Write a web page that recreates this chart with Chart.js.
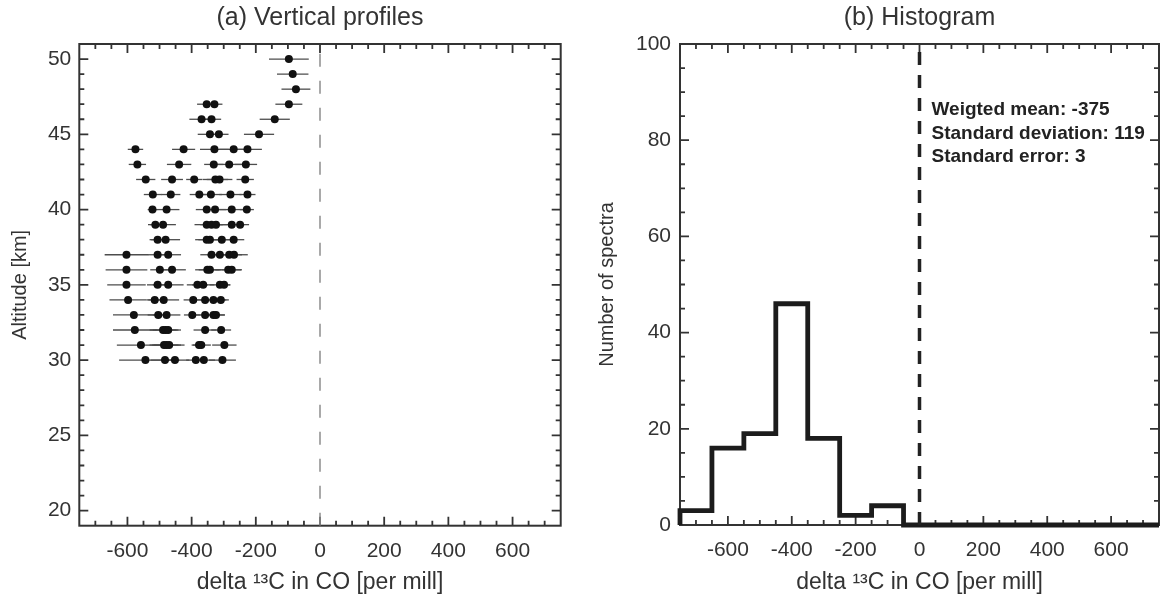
<!DOCTYPE html>
<html><head><meta charset="utf-8">
<script src="https://cdn.jsdelivr.net/npm/chart.js@4/dist/chart.umd.min.js"></script>
<style>
html,body{margin:0;padding:0;background:#fff;overflow:hidden}
#wrap{position:relative;width:1161px;height:601px;background:#fff}
#left{position:absolute;left:0;top:0}
#right{position:absolute;left:580px;top:0}
</style></head><body>
<div id="wrap"><canvas id="left" width="580" height="601"></canvas><canvas id="right" width="581" height="601"></canvas></div>
<script>
// ---------- Panel (a) data: one entry per retrieved point ----------
const profileAltitude = [
  50, 49, 48,
  47, 47, 47,
  46, 46, 46,
  45, 45, 45,
  44, 44, 44, 44, 44,
  43, 43, 43, 43, 43,
  42, 42, 42, 42, 42, 42,
  41, 41, 41, 41, 41, 41,
  40, 40, 40, 40, 40, 40,
  39, 39, 39, 39, 39, 39, 39,
  38, 38, 38, 38, 38, 38,
  37, 37, 37, 37, 37, 37, 37,
  36, 36, 36, 36, 36, 36, 36,
  35, 35, 35, 35, 35, 35, 35,
  34, 34, 34, 34, 34, 34, 34,
  33, 33, 33, 33, 33, 33, 33,
  32, 32, 32, 32, 32, 32,
  31, 31, 31, 31, 31, 31, 31,
  30, 30, 30, 30, 30, 30
];
const profileDelta = [
  -97, -85, -75,
  -353, -329, -97,
  -369, -338, -141,
  -343, -315, -190,
  -575, -425, -329, -269, -226,
  -569, -439, -331, -283, -231,
  -543, -461, -392, -326, -313, -233,
  -521, -465, -376, -340, -279, -226,
  -522, -478, -353, -327, -275, -228,
  -513, -489, -353, -338, -324, -275, -249,
  -506, -481, -353, -343, -306, -269,
  -603, -506, -473, -338, -312, -283, -268,
  -603, -499, -461, -351, -343, -286, -275,
  -603, -506, -473, -382, -364, -312, -299,
  -598, -515, -487, -395, -358, -332, -309,
  -580, -504, -478, -398, -358, -332, -324,
  -577, -489, -481, -473, -358, -308,
  -558, -486, -478, -470, -377, -370, -298,
  -544, -483, -452, -387, -362, -304
];
const profileError = [
  62, 49, 45,
  30, 25, 42,
  38, 30, 47,
  38, 30, 47,
  24, 36, 45, 45, 45,
  27, 38, 30, 40, 35,
  30, 34, 25, 40, 40, 27,
  28, 30, 30, 35, 35, 25,
  15, 40, 34, 35, 40, 22,
  23, 40, 38, 35, 35, 40, 28,
  25, 45, 36, 36, 40, 33,
  68, 30, 40, 35, 40, 40, 43,
  65, 30, 43, 38, 35, 40, 32,
  60, 33, 48, 33, 35, 32, 20,
  58, 25, 48, 30, 35, 40, 25,
  65, 33, 43, 26, 35, 35, 28,
  68, 42, 40, 40, 36, 31,
  75, 45, 45, 48, 19, 30, 38,
  82, 45, 45, 30, 35, 42
];

// ---------- Panel (b) data: histogram ----------
const binEdges  = [-750, -650, -550, -450, -350, -250, -150, -50, 750];
const binCounts = [3, 16, 19, 46, 18, 2, 4, 0];
const statLines = ['Weigted mean: -375', 'Standard deviation: 119', 'Standard error: 3'];

// ---------- Axes ----------
const xRange = [-750, 750];
const xTickLabels = [-600, -400, -200, 0, 200, 400, 600];
const altRange = [19, 51];
const altTickLabels = [20, 25, 30, 35, 40, 45, 50];
const countRange = [0, 100];
const countTickLabels = [0, 20, 40, 60, 80, 100];
const zeroLineX = 0;

const FONT = "'Liberation Sans', Arial, Helvetica, sans-serif";
const INK = '#333333';
Chart.defaults.font.family = FONT;
Chart.defaults.color = INK;

function frameTicks(xMinorStep, xMajorStep, yMinorStep, yMajorStep) {
  return {
    id: 'frameTicks',
    beforeDatasetsDraw(chart) {
      const {ctx, chartArea: a, scales: {x, y}} = chart;
      ctx.save();
      ctx.strokeStyle = INK;
      ctx.lineWidth = 1.8;
      ctx.lineCap = 'butt';
      const eps = 1e-6;
      for (let v = x.min + xMinorStep; v < x.max - eps; v += xMinorStep) {
        const r = Math.round(v);
        const major = Math.abs(r % xMajorStep) < eps;
        const len = major ? 9 : 5;
        const px = x.getPixelForValue(r);
        ctx.beginPath();
        ctx.moveTo(px, a.bottom); ctx.lineTo(px, a.bottom - len);
        ctx.moveTo(px, a.top); ctx.lineTo(px, a.top + len);
        ctx.stroke();
      }
      for (let v = Math.ceil(y.min / yMinorStep) * yMinorStep; v <= y.max + eps; v += yMinorStep) {
        if (v <= y.min + eps || v >= y.max - eps) continue;
        const major = Math.abs(v % yMajorStep) < eps;
        const len = major ? 9 : 5;
        const py = y.getPixelForValue(v);
        ctx.beginPath();
        ctx.moveTo(a.left, py); ctx.lineTo(a.left + len, py);
        ctx.moveTo(a.right, py); ctx.lineTo(a.right - len, py);
        ctx.stroke();
      }
      ctx.lineWidth = 2;
      ctx.strokeRect(a.left, a.top, a.right - a.left, a.bottom - a.top);
      ctx.restore();
    }
  };
}

const errorBars = {
  id: 'errorBars',
  beforeDatasetsDraw(chart) {
    const {ctx, scales: {x, y}} = chart;
    ctx.save();
    ctx.strokeStyle = '#4d4d4d';
    ctx.lineWidth = 1.3;
    profileDelta.forEach((v, i) => {
      const py = y.getPixelForValue(profileAltitude[i]);
      ctx.beginPath();
      ctx.moveTo(x.getPixelForValue(v - profileError[i]), py);
      ctx.lineTo(x.getPixelForValue(v + profileError[i]), py);
      ctx.stroke();
    });
    ctx.restore();
  }
};

const statsText = {
  id: 'statsText',
  afterDatasetsDraw(chart) {
    const {ctx, chartArea: a, scales: {x}} = chart;
    ctx.save();
    ctx.fillStyle = '#222';
    ctx.font = "bold 19px " + FONT;
    ctx.textBaseline = 'middle';
    ctx.textAlign = 'left';
    const x0 = x.getPixelForValue(zeroLineX) + 12;
    statLines.forEach((t, i) => ctx.fillText(t, x0, a.top + 66 + i * 23.5));
    ctx.restore();
  }
};

function xAxis(height) {
  return {
    type: 'linear', min: xRange[0], max: xRange[1],
    afterBuildTicks(s) { s.ticks = xTickLabels.map(v => ({value: v})); },
    afterFit(s) { s.height = height; },
    grid: {display: false, drawTicks: false},
    border: {display: false},
    ticks: {padding: 13, font: {size: 21}, color: INK},
    title: {display: true, text: 'delta ¹³C in CO [per mill]', font: {size: 23}, color: INK,
            padding: {top: 0, bottom: 4.2}}
  };
}

function titleOpts(text) {
  return {display: true, text: text, color: INK, fullSize: false,
          font: {size: 25, weight: 'normal'}, padding: {top: 3, bottom: 11}};
}

// ---------- Chart (a) ----------
new Chart(document.getElementById('left'), {
  data: {
    datasets: [
      {
        type: 'scatter',
        data: profileDelta.map((v, i) => ({x: v, y: profileAltitude[i]})),
        pointRadius: 4, pointHoverRadius: 4,
        backgroundColor: '#111', borderWidth: 0
      },
      {
        type: 'line',
        data: [{x: zeroLineX, y: altRange[0]}, {x: zeroLineX, y: altRange[1]}],
        borderColor: '#8c8c8c', borderWidth: 1.5, borderDash: [13, 14],
        pointRadius: 0, fill: false
      }
    ]
  },
  options: {
    responsive: false, animation: false, devicePixelRatio: 1,
    layout: {padding: {left: 0, right: 19.3, top: 0, bottom: 0}},
    plugins: {
      legend: {display: false}, tooltip: {enabled: false},
      title: titleOpts('(a) Vertical profiles')
    },
    scales: {
      x: xAxis(75.3),
      y: {
        type: 'linear', min: altRange[0], max: altRange[1],
        afterBuildTicks(s) { s.ticks = altTickLabels.map(v => ({value: v})); },
        afterFit(s) { s.width = 79.3; },
        grid: {display: false, drawTicks: false},
        border: {display: false},
        ticks: {padding: 8, font: {size: 21}, color: INK},
        title: {display: true, text: 'Altitude [km]', font: {size: 20}, color: INK,
                padding: {top: 8, bottom: 0}}
      }
    }
  },
  plugins: [frameTicks(50, 200, 1, 5), errorBars]
});

// ---------- Chart (b) ----------
const histPoints = [{x: binEdges[0], y: 0}]
  .concat(binCounts.map((c, i) => ({x: binEdges[i], y: c})))
  .concat([{x: binEdges[binEdges.length - 1], y: binCounts[binCounts.length - 1]}]);

new Chart(document.getElementById('right'), {
  data: {
    datasets: [
      {
        type: 'line',
        data: [{x: zeroLineX, y: countRange[0]}, {x: zeroLineX, y: countRange[1]}],
        borderColor: '#222', borderWidth: 3.5, borderDash: [13, 10],
        pointRadius: 0, fill: false
      },
      {
        type: 'line',
        data: histPoints,
        stepped: true,
        borderColor: '#1c1c1c', borderWidth: 4.8,
        borderJoinStyle: 'miter', borderCapStyle: 'butt',
        pointRadius: 0, fill: false, clip: false
      }
    ]
  },
  options: {
    responsive: false, animation: false, devicePixelRatio: 1,
    layout: {padding: {left: 0, right: 2, top: 0, bottom: 0}},
    plugins: {
      legend: {display: false}, tooltip: {enabled: false},
      title: titleOpts('(b) Histogram')
    },
    scales: {
      x: xAxis(76),
      y: {
        type: 'linear', min: countRange[0], max: countRange[1],
        afterBuildTicks(s) { s.ticks = countTickLabels.map(v => ({value: v})); },
        afterFit(s) { s.width = 100; },
        grid: {display: false, drawTicks: false},
        border: {display: false},
        ticks: {padding: 9, font: {size: 21}, color: INK},
        title: {display: true, text: 'Number of spectra', font: {size: 20}, color: INK,
                padding: {top: 15, bottom: 0}}
      }
    }
  },
  plugins: [frameTicks(50, 200, 5, 20), statsText]
});
</script>
</body></html>
